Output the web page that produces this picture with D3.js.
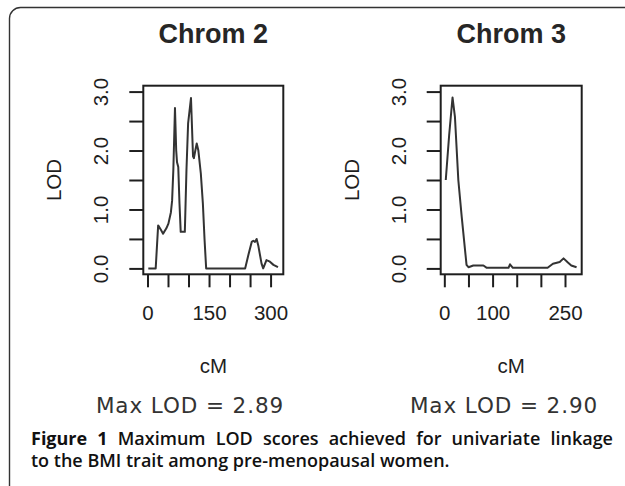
<!DOCTYPE html>
<html>
<head>
<meta charset="utf-8">
<script src="https://cdn.jsdelivr.net/npm/d3@7/dist/d3.min.js"></script>
<style>
  body { margin: 0; background: #fff; }
  svg { display: block; }
</style>
</head>
<body>
<svg id="chart" width="625" height="486"></svg>
<script>
// values
const chrom2CM  = [2, 20, 26, 33, 38, 46, 51, 57, 60, 63, 67, 70, 72, 75, 78, 81, 91, 95, 99, 106, 111, 113, 116, 120, 124, 130, 135, 139, 143, 238, 246, 254, 258, 262, 266, 270, 278, 282, 290, 297, 307, 318];
const chrom2LOD = [0, 0, 0.73, 0.65, 0.59, 0.68, 0.76, 0.95, 1.15, 1.67, 2.72, 2.0, 1.8, 1.72, 1.1, 0.62, 0.62, 1.67, 2.46, 2.89, 1.9, 1.87, 1.98, 2.12, 2.0, 1.61, 1.1, 0.5, 0, 0, 0.23, 0.45, 0.47, 0.45, 0.5, 0.39, 0.08, 0, 0.14, 0.12, 0.06, 0.02];

const chrom3CM  = [3, 10, 17, 22, 29, 36, 46, 50, 60, 81, 88, 133, 136, 142, 214, 225, 239, 247, 256, 263, 274];
const chrom3LOD = [1.5, 2.26, 2.9, 2.57, 1.5, 0.88, 0.06, 0.02, 0.05, 0.05, 0.01, 0.01, 0.07, 0.01, 0.01, 0.08, 0.11, 0.17, 0.1, 0.05, 0.02];

const lodTicks = [0, 0.5, 1, 1.5, 2, 2.5, 3];
const lodTickLabels = ["0.0", "", "1.0", "", "2.0", "", "3.0"];
const chrom2Ticks = [0, 50, 100, 150, 200, 250, 300];
const chrom2TickLabels = ["0", "", "", "150", "", "", "300"];
const chrom3Ticks = [0, 50, 100, 150, 200, 250];
const chrom3TickLabels = ["0", "", "100", "", "", "250"];

const panelTitles = ["Chrom 2", "Chrom 3"];
const maxLods = [2.89, 2.90];

const captionBold = "Figure 1";
const captionLine1 = "Maximum LOD scores achieved for univariate linkage";
const captionLine2 = "to the BMI trait among pre-menopausal women.";

const svg = d3.select('#chart');
const ink = '#1e1e1e';
const rFont = '"Liberation Sans", Arial, sans-serif';

// outer rounded frame (runs off the right and bottom edges)
svg.append('rect')
  .attr('x', 9.5).attr('y', 7.5)
  .attr('width', 700).attr('height', 490)
  .attr('rx', 11)
  .attr('fill', 'none')
  .attr('stroke', '#333')
  .attr('stroke-width', 1.4);

const panels = [
  { title: panelTitles[0], cm: chrom2CM, lod: chrom2LOD, ticks: chrom2Ticks, tickLabels: chrom2TickLabels,
    xDomain: [-10.2, 331], left: 143.3, right: 283.3, maxLod: maxLods[0], maxX: 190 },
  { title: panelTitles[1], cm: chrom3CM, lod: chrom3LOD, ticks: chrom3Ticks, tickLabels: chrom3TickLabels,
    xDomain: [-7.5, 284.6], left: 440.7, right: 581.7, maxLod: maxLods[1], maxX: 504 },
];

const plotTop = 85.7, plotBottom = 274.3;
const y = d3.scaleLinear().domain([-0.1, 3.1]).range([plotBottom, plotTop]);

panels.forEach(p => {
  const x = d3.scaleLinear().domain(p.xDomain).range([p.left, p.right]);
  const g = svg.append('g');
  const mid = (p.left + p.right) / 2;

  g.append('text')
    .attr('x', mid).attr('y', 43)
    .attr('text-anchor', 'middle')
    .style('font-family', rFont)
    .style('font-weight', 'bold')
    .style('font-size', '27px')
    .attr('fill', '#262626')
    .text(p.title);

  // y axis
  const yAxis = d3.axisLeft(y).tickValues(lodTicks).tickSize(14)
    .tickFormat((d, i) => lodTickLabels[i]);
  const ya = g.append('g').attr('transform', `translate(${p.left},0)`).call(yAxis);
  ya.select('.domain').remove();
  ya.selectAll('line').attr('stroke', ink).attr('stroke-width', 2);
  ya.selectAll('text')
    .attr('x', 0).attr('y', 0).attr('dy', 0)
    .attr('transform', 'translate(-35,0) rotate(-90)')
    .attr('text-anchor', 'middle')
    .attr('fill', ink)
    .style('font-family', rFont)
    .style('font-size', '20.5px');

  // x axis
  const xAxis = d3.axisBottom(x).tickValues(p.ticks).tickSize(13)
    .tickFormat((d, i) => p.tickLabels[i]);
  const xa = g.append('g').attr('transform', `translate(0,${plotBottom})`).call(xAxis);
  xa.select('.domain').remove();
  xa.selectAll('line').attr('stroke', ink).attr('stroke-width', 2);
  xa.selectAll('text')
    .attr('y', 46).attr('dy', 0)
    .attr('fill', ink)
    .style('font-family', rFont)
    .style('font-size', '20.5px');

  // axis titles
  g.append('text')
    .attr('transform', `translate(${p.left - 82},${(plotTop + plotBottom) / 2}) rotate(-90)`)
    .attr('text-anchor', 'middle')
    .attr('fill', ink)
    .style('font-family', rFont)
    .style('font-size', '20.5px')
    .text('LOD');
  g.append('text')
    .attr('x', mid).attr('y', 373)
    .attr('text-anchor', 'middle')
    .attr('fill', ink)
    .style('font-family', rFont)
    .style('font-size', '20.5px')
    .text('cM');

  // LOD curve
  const line = d3.line().x(d => x(d[0])).y(d => y(d[1]));
  g.append('path')
    .datum(d3.zip(p.cm, p.lod))
    .attr('d', line)
    .attr('fill', 'none')
    .attr('stroke', '#333')
    .attr('stroke-width', 2)
    .attr('stroke-linejoin', 'round');

  // plot box
  g.append('rect')
    .attr('x', p.left).attr('y', plotTop)
    .attr('width', p.right - p.left).attr('height', plotBottom - plotTop)
    .attr('fill', 'none')
    .attr('stroke', ink)
    .attr('stroke-width', 2);

  g.append('text')
    .attr('x', p.maxX).attr('y', 413)
    .attr('text-anchor', 'middle')
    .attr('fill', '#333')
    .style('font-family', '"DejaVu Sans", sans-serif')
    .style('font-size', '21.5px')
    .style('letter-spacing', '0.9px')
    .text(`Max LOD = ${p.maxLod.toFixed(2)}`);
});

// caption, first line justified to the right edge by word spacing
const capLeft = 31, capRight = 613;
const cap = svg.append('g')
  .style('font-family', '"Open Sans", sans-serif')
  .style('font-size', '18px')
  .attr('fill', '#111');
const t1 = cap.append('text').attr('x', capLeft).attr('y', 445);
t1.append('tspan').style('font-weight', 700).text(captionBold + ' ');
t1.append('tspan').style('font-weight', 600).text(captionLine1);
const natural = t1.node().getComputedTextLength();
const gaps = (captionBold + ' ' + captionLine1).split(' ').length - 1;
t1.style('word-spacing', `${(capRight - capLeft - natural) / gaps}px`);
cap.append('text').attr('x', capLeft).attr('y', 467)
  .style('font-weight', 600)
  .text(captionLine2);
</script>
</body>
</html>
